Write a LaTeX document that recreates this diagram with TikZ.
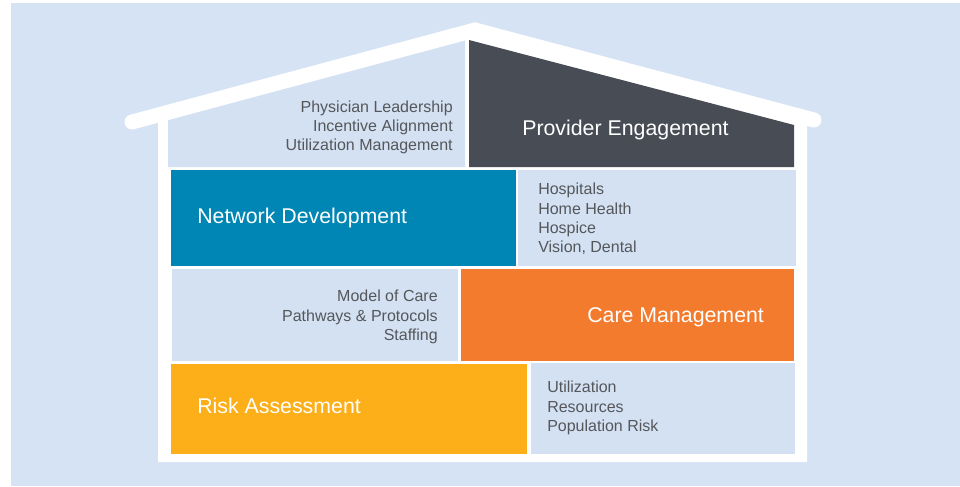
\documentclass[tikz,border=0pt]{standalone}
\usepackage{fontspec}
\setmainfont{Liberation Sans}
\usepackage{tikz}
\usepackage{xcolor}
\definecolor{skyback}{RGB}{213,227,244}
\definecolor{paleblock}{RGB}{211,225,243}
\definecolor{textgray}{RGB}{85,87,90}

\begin{document}
\begin{tikzpicture}[x=0.75pt,y=-0.75pt,
    title/.style={text=white, font=\fontsize{16}{19}\selectfont, inner sep=0pt},
    itemlist/.style={text=textgray, font=\fontsize{12}{14.4}\selectfont, inner sep=0pt}]
    % Define colors for the building blocks
    \definecolor{slate}{RGB}{72,76,85}
    \definecolor{ocean}{RGB}{0,134,180}
    \definecolor{tangerine}{RGB}{243,123,45}
    \definecolor{amber}{RGB}{252,175,24}

    \useasboundingbox (0,0) rectangle (960,486);

    % Background panel
    \fill[skyback] (11,3) rectangle (960,486);

    % White body of the house
    \fill[white] (158,122) -- (475,32) -- (807,120) -- (807,462) -- (158,462) -- cycle;

    % Top floor (slanted under the roof)
    \fill[paleblock] (168,118) -- (465,36) -- (465,167) -- (168,167) -- cycle;
    \fill[slate] (469,40) -- (794,125) -- (794,167) -- (469,167) -- cycle;

    % Second floor
    \fill[ocean] (171,170) rectangle (516,266);
    \fill[paleblock] (518,170) rectangle (796,266);

    % Third floor
    \fill[paleblock] (172,269) rectangle (458,361);
    \fill[tangerine] (461,269) rectangle (794,361);

    % Ground floor
    \fill[amber] (171,364) rectangle (527,454);
    \fill[paleblock] (531,363) rectangle (795,454);

    % Roof
    \draw[white, line width=11.25pt, line cap=round] (132,122) -- (475,30) -- (814,120);

    % Labels of the blocks
    \node[title, anchor=base west] (provider) at (522,135) {Provider Engagement};
    \node[title, anchor=base west] (network) at (197,223) {Network Development};
    \node[title, anchor=base west] (care) at (587,322) {Care Management};
    \node[title, anchor=base west] (risk) at (197,413) {Risk Assessment};

    % Item lists
    \node[itemlist, anchor=east, align=right] (leaders) at (453,127.5)
        {Physician Leadership\\Incentive Alignment\\Utilization Management};
    \node[itemlist, anchor=west, align=left] (partners) at (538,219)
        {Hospitals\\Home Health\\Hospice\\Vision, Dental};
    \node[itemlist, anchor=east, align=right] (model) at (438,317)
        {Model of Care\\Pathways \& Protocols\\Staffing};
    \node[itemlist, anchor=west, align=left] (measures) at (547,408)
        {Utilization\\Resources\\Population Risk};

\end{tikzpicture}
\end{document}
